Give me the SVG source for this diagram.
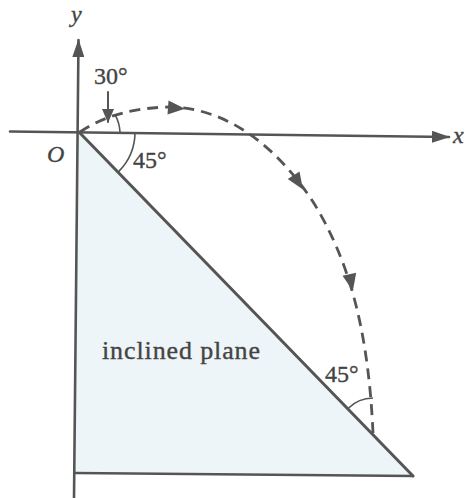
<svg xmlns="http://www.w3.org/2000/svg" width="466" height="498" viewBox="0 0 466 498">
<defs>
<style>
.ln{stroke:#555;stroke-width:2.6;fill:none;stroke-linecap:round}
.thin{stroke:#555;stroke-width:1.6;fill:none}
.dash{stroke:#555;stroke-width:2.8;fill:none;stroke-dasharray:11 7}
.ah{fill:#555}
.t{font-family:"Liberation Serif","Times New Roman",serif;fill:#444;stroke:#444;stroke-width:0.35;font-size:24px}
.it{font-style:italic}
</style>
<marker id="axarrow" viewBox="0 0 18 12" refX="17" refY="6" markerUnits="userSpaceOnUse" markerWidth="18" markerHeight="12" orient="auto">
<path d="M0,0 L18,6 L0,12 z" fill="#555"/>
</marker>
<marker id="smarrow" viewBox="0 0 14 12" refX="13" refY="6" markerUnits="userSpaceOnUse" markerWidth="14" markerHeight="12" orient="auto">
<path d="M0,0 L14,6 L0,12 z" fill="#555"/>
</marker>
</defs>
<rect width="466" height="498" fill="#fff"/>
<g id="plane">
<polygon points="79,132 75,473 413,476" fill="#eef5f8"/>
<line class="ln" x1="79" y1="132" x2="413" y2="476" style="stroke-width:3"/>
<line class="ln" x1="75" y1="473" x2="413" y2="476"/>
</g>
<g id="axes">
<line class="ln" x1="74" y1="498" x2="78.5" y2="40" marker-end="url(#axarrow)"/>
<line class="ln" x1="10" y1="131.5" x2="449" y2="137" marker-end="url(#axarrow)"/>
<text class="t it" x="71" y="22">y</text>
<text class="t it" x="453" y="143">x</text>
<text class="t it" x="47" y="162">O</text>
</g>
<g id="trajectory">
<path class="dash" d="M80,132 Q115,108 170,107 C230,108 280,150 315,205 C345,255 368,320 373,433"/>
<polygon class="ah" points="9,0 -8,-7 -8,7" transform="translate(176,108) rotate(4)"/>
<polygon class="ah" points="9,0 -8,-7 -8,7" transform="translate(298,182) rotate(57)"/>
<polygon class="ah" points="9,0 -8,-7 -8,7" transform="translate(351,282) rotate(78)"/>
</g>
<g id="angle30">
<line class="ln" x1="108" y1="92" x2="108" y2="122" style="stroke-width:2" marker-end="url(#smarrow)"/>
<path class="thin" d="M120,132 A40,40 0 0,0 115.3,115.1"/>
<text class="t" x="94" y="84">30°</text>
</g>
<g id="angle45top">
<path class="thin" d="M135,132 A56,56 0 0,1 118.6,171.6"/>
<text class="t" x="133" y="168">45°</text>
</g>
<g id="angle45bottom">
<path class="thin" d="M373,398 A35,35 0 0,0 348.3,408.3"/>
<text class="t" x="325" y="382">45°</text>
</g>
<text class="t" x="102" y="359" textLength="158" style="font-size:26px">inclined plane</text>
</svg>
